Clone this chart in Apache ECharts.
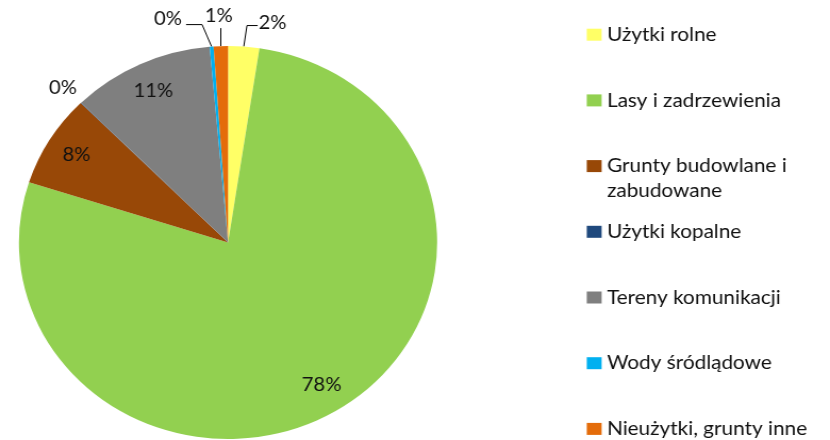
<!DOCTYPE html>
<html>
<head>
<meta charset="utf-8">
<script src="https://cdn.jsdelivr.net/npm/echarts@6/dist/echarts.min.js"></script>
<style>
html, body { margin: 0; padding: 0; background: #fff; overflow: hidden; }
/* the original picture is a little stretched sideways, so stretch ours too */
#chart { width: 780px; height: 440px; transform: scaleX(1.0641); transform-origin: 0 0; }
</style>
</head>
<body>
<div id="chart"></div>
<script>
var categories = ['Użytki rolne', 'Lasy i zadrzewienia', 'Grunty budowlane i zabudowane',
    'Użytki kopalne', 'Tereny komunikacji', 'Wody śródlądowe', 'Nieużytki, grunty inne'];
var values = [2.4, 77.55, 7.6, 0.05, 11.0, 0.3, 1.1];
var colors = ['#FFFF66', '#92D050', '#984807', '#1F497D', '#7F7F7F', '#00B0F0', '#E46C0A'];

var CX = 214.3, CY = 242.5, R = 196.5;
var FONT = 'Lato';
var TXT = '#111';
var LINE_H = 25;

function pct(p) {
    return Math.round(p.percent) + '%';
}

function wrapName(name) {
    return name.replace('budowlane i ', 'budowlane i\n');
}

var pieData = categories.map(function (name, i) {
    var small = values[i] < 5;
    return {
        name: name,
        value: values[i],
        itemStyle: { color: colors[i] },
        label: { show: small },
        labelLine: { show: small && i !== 3 }
    };
});

// transparent ring only used to put the big labels near the rim
var ringData = categories.map(function (name, i) {
    return { name: name, value: values[i], label: { show: values[i] >= 5 } };
});

// one legend per entry so the two-line entry keeps the even spacing;
// a wrapped entry gets empty lines on top so its first line sits next to the square
var legends = categories.map(function (name, i) {
    var extraLines = wrapName(name).split('\n').length - 1;
    var pad = new Array(extraLines + 1).join('\n');
    return {
        orient: 'vertical',
        left: 551.4,
        top: 34.7 + 65.7 * i - LINE_H / 2 - extraLines * LINE_H,
        padding: 0,
        itemWidth: 14,
        itemHeight: 12,
        icon: 'rect',
        selectedMode: false,
        data: [name],
        formatter: function (n) { return pad + wrapName(n); },
        textStyle: { fontFamily: FONT, fontSize: 19.5, color: TXT, lineHeight: LINE_H }
    };
});

var option = {
    animation: false,
    backgroundColor: '#fff',
    legend: legends,
    series: [
        {
            type: 'pie',
            center: [CX, CY],
            radius: [0, R],
            startAngle: 90,
            avoidLabelOverlap: false,
            silent: true,
            itemStyle: { borderWidth: 0 },
            label: {
                position: 'outside',
                formatter: pct,
                fontFamily: FONT,
                fontSize: 19,
                color: TXT
            },
            labelLine: {
                length: 20,
                length2: 10,
                lineStyle: { color: '#000', width: 1 }
            },
            labelLayout: function (p) {
                var i = p.dataIndex;
                if (i === 3) {
                    return { x: CX - 0.79 * R, y: CY - 0.786 * R, align: 'center', verticalAlign: 'middle' };
                }
                var pts = p.labelLinePoints;
                if (!pts) return {};
                var x = pts[0][0], y = pts[0][1];
                if (i === 0) {
                    return { x: x + 14, y: y - 24, align: 'left', verticalAlign: 'middle',
                        labelLinePoints: [[x, y], [x + 3, y - 21], [x + 13, y - 21]] };
                }
                if (i === 6) {
                    return { x: x - 2, y: y - 30, align: 'center', verticalAlign: 'middle',
                        labelLinePoints: [[x, y], [x, y - 18], [x, y - 18]] };
                }
                if (i === 5) {
                    return { x: x - 28, y: y - 27.5, align: 'right', verticalAlign: 'middle',
                        labelLinePoints: [[x, y], [x - 9, y - 22], [x - 24, y - 22]] };
                }
                return {};
            },
            data: pieData
        },
        {
            type: 'pie',
            center: [CX, CY],
            radius: [147, 181],
            startAngle: 90,
            silent: true,
            itemStyle: { color: 'transparent', borderWidth: 0 },
            label: {
                position: 'inside',
                formatter: pct,
                fontFamily: FONT,
                fontSize: 19,
                color: TXT
            },
            labelLine: { show: false },
            data: ringData
        }
    ]
};

var chart = echarts.init(document.getElementById('chart'));
chart.setOption(option);
</script>
</body>
</html>
